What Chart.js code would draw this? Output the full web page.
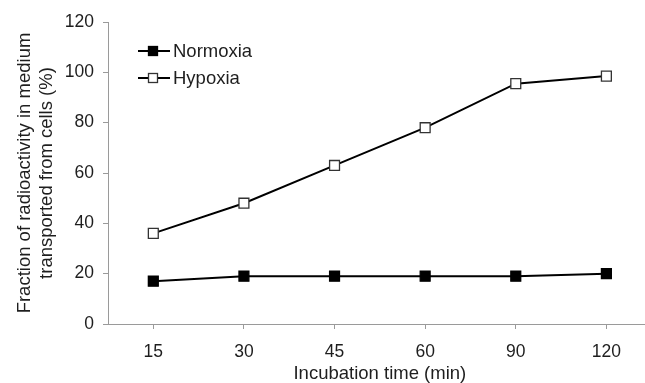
<!DOCTYPE html>
<html>
<head>
<meta charset="utf-8">
<script src="https://cdn.jsdelivr.net/npm/chart.js@4/dist/chart.umd.min.js"></script>
<style>
  html, body { margin: 0; padding: 0; background: #fff; overflow: hidden; }
  #wrap { width: 645px; height: 383px; overflow: hidden; }
</style>
</head>
<body>
<div id="wrap"><canvas id="chart" width="660" height="383"></canvas></div>
<script>
const times = ['15', '30', '45', '60', '90', '120'];
const normoxia = [17, 19, 19, 19, 19, 20];
const hypoxia = [36, 48, 63, 78, 95.5, 98.5];
const seriesNames = ['Normoxia', 'Hypoxia'];

const textColor = '#1e1e1e';
const axisColor = '#9a9a9a';

// legend drawn by hand: line through marker, like the original
const lineLegend = {
  id: 'lineLegend',
  afterDraw(chart) {
    const ctx = chart.ctx;
    const x0 = 138, x1 = 170, rows = [51, 78];
    chart.data.datasets.forEach((ds, i) => {
      const y = rows[i];
      ctx.save();
      ctx.strokeStyle = ds.borderColor;
      ctx.lineWidth = 2;
      ctx.beginPath();
      ctx.moveTo(x0, y);
      ctx.lineTo(x1, y);
      ctx.stroke();
      ctx.fillStyle = ds.pointBackgroundColor;
      ctx.strokeStyle = ds.pointBorderColor;
      ctx.lineWidth = ds.pointBorderWidth;
      ctx.fillRect(148.5, y - 4.5, 9, 9);
      ctx.strokeRect(148.5, y - 4.5, 9, 9);
      ctx.fillStyle = textColor;
      ctx.font = '18.5px "Liberation Sans", Arial, sans-serif';
      ctx.textBaseline = 'middle';
      ctx.fillText(ds.label, 173, y + 1);
      ctx.restore();
    });
  }
};

new Chart(document.getElementById('chart'), {
  type: 'line',
  data: {
    labels: times,
    datasets: [
      {
        label: seriesNames[0],
        data: normoxia,
        borderColor: '#000',
        borderWidth: 2,
        pointStyle: 'rect',
        pointRadius: 7,
        pointBackgroundColor: '#000',
        pointBorderColor: '#000',
        pointBorderWidth: 1.3,
      },
      {
        label: seriesNames[1],
        data: hypoxia,
        borderColor: '#000',
        borderWidth: 2,
        pointStyle: 'rect',
        pointRadius: 7,
        pointBackgroundColor: '#fff',
        pointBorderColor: '#333',
        pointBorderWidth: 1.3,
      },
    ],
  },
  options: {
    responsive: false,
    animation: false,
    layout: { padding: { top: 22, right: 6, left: 0, bottom: 0 } },
    plugins: {
      legend: { display: false },
      tooltip: { enabled: false },
    },
    scales: {
      x: {
        offset: true,
        afterFit(scale) { scale.height = 59; },
        grid: { drawOnChartArea: false, tickLength: 5, color: axisColor },
        border: { color: axisColor, width: 1 },
        ticks: {
          color: textColor,
          padding: 13,
          font: { family: '"Liberation Sans", Arial, sans-serif', size: 17.5 },
        },
        title: {
          display: true,
          text: 'Incubation time (min)',
          color: textColor,
          padding: { top: 0, bottom: 0 },
          font: { family: '"Liberation Sans", Arial, sans-serif', size: 18.5, lineHeight: 1 },
        },
      },
      y: {
        min: 0,
        max: 120,
        afterFit(scale) { scale.width = 108; },
        grid: { drawOnChartArea: false, tickLength: 5, color: axisColor },
        border: { color: axisColor, width: 1 },
        ticks: {
          stepSize: 20,
          color: textColor,
          padding: 9,
          font: { family: '"Liberation Sans", Arial, sans-serif', size: 17.5 },
        },
        title: {
          display: true,
          text: ['Fraction of radioactivity in medium', 'transported from cells (%)'],
          color: textColor,
          padding: { top: 14, bottom: 0 },
          font: { family: '"Liberation Sans", Arial, sans-serif', size: 18.5, lineHeight: 1.2 },
        },
      },
    },
  },
  plugins: [lineLegend],
});
</script>
</body>
</html>
